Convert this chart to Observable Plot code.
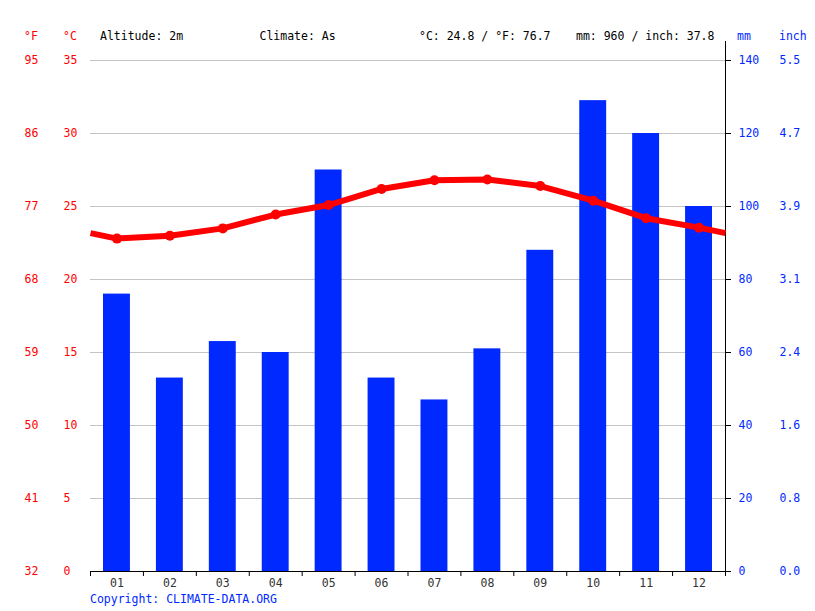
<!DOCTYPE html>
<html><head><meta charset="utf-8">
<script src="https://cdn.jsdelivr.net/npm/d3@7"></script>
<script src="https://cdn.jsdelivr.net/npm/@observablehq/plot@0.6"></script>
<style>
body{margin:0;background:#fff;font-family:"DejaVu Sans Mono",monospace;font-size:11.5px;}
#wrap{position:relative;width:815px;height:611px;overflow:hidden;}
.hd{position:absolute;top:29px;line-height:14px;white-space:pre;color:#000;}
#plots{position:absolute;left:0;top:30px;width:815px;height:560px;}
#plots svg{position:absolute;left:0;top:0;}
#caption{position:absolute;left:90px;top:592px;line-height:14px;color:#0029ff;white-space:pre;}
</style>
</head><body>
<div id="wrap">
  <div id="header"></div>
  <div id="plots"></div>
  <div id="caption"></div>
</div>
<script>
// ---- data ----
const months = ["01","02","03","04","05","06","07","08","09","10","11","12"];
const precipMm = [76, 53, 63, 60, 110, 53, 47, 61, 88, 129, 120, 100];
const tempC = [22.8, 23.0, 23.5, 24.45, 25.1, 26.2, 26.8, 26.85, 26.4, 25.4, 24.2, 23.55];
const mmTicks = [0, 20, 40, 60, 80, 100, 120, 140];
const cTicks = [0, 5, 10, 15, 20, 25, 30, 35];
const headerTexts = ["Altitude: 2m", "Climate: As", "°C: 24.8 / °F: 76.7", "mm: 960 / inch: 37.8"];
const unitLabels = ["°F", "°C", "mm", "inch"];
const captionText = "Copyright: CLIMATE-DATA.ORG";

// ---- layout / style ----
const RED = "#ff0000", BLUE = "#0029ff";
const W = 815, H = 560;
const margins = {marginTop: 11, marginRight: 90, marginBottom: 19, marginLeft: 90};
const mmTop = 140 * 530 / 511;
const font = {fontFamily: "DejaVu Sans Mono", fontSize: "11.5px", background: "transparent", overflow: "visible"};

// header
const header = document.getElementById("header");
const hdPos = [100, 259.5, 419, 576];
headerTexts.forEach((t, i) => {
  const s = document.createElement("span");
  s.className = "hd"; s.style.left = hdPos[i] + "px"; s.textContent = t;
  header.appendChild(s);
});
const unitPos = [24, 63, 737, 779];
const unitCol = [RED, RED, BLUE, BLUE];
unitLabels.forEach((t, i) => {
  const s = document.createElement("span");
  s.className = "hd"; s.style.left = unitPos[i] + "px"; s.style.color = unitCol[i]; s.textContent = t;
  header.appendChild(s);
});
document.getElementById("caption").textContent = captionText;

// precipitation plot (mm)
const rain = months.map((m, i) => ({month: m, mm: precipMm[i]}));
const p1 = Plot.plot({
  width: W, height: H, ...margins, style: font,
  x: {type: "band", domain: months, padding: 0, round: false},
  y: {domain: [0, mmTop]},
  marks: [
    Plot.ruleY(mmTicks.filter(d => d > 0), {stroke: "#c4c4c4", strokeWidth: 1}),
    Plot.barY(rain, {x: "month", y: "mm", fill: BLUE, insetLeft: 13, insetRight: 13}),
    Plot.ruleY([0], {stroke: "#000"}),
    Plot.axisX({tickSize: 0, tickPadding: 7, fill: "#333", label: null}),
    Plot.axisY(mmTicks, {anchor: "right", tickSize: 5, tickPadding: 8, stroke: "#000", fill: BLUE, label: null}),
    Plot.axisY(mmTicks, {anchor: "right", tickSize: 0, tickPadding: 54, fill: BLUE, label: null,
      tickFormat: d => (d / 25.4).toFixed(1)})
  ]
});

// temperature plot (°C)
const tempPts = months.map((m, i) => ({x: i + 1, c: tempC[i]}));
const edgeC = (tempC[0] + tempC[tempC.length - 1]) / 2;
const lineData = [{x: 0.5, c: edgeC}, ...tempPts, {x: months.length + 0.5, c: edgeC}];
const bounds = d3.range(0, months.length + 1).map(i => i + 0.5);
const p2 = Plot.plot({
  width: W, height: H, ...margins, style: font,
  x: {domain: [0.5, months.length + 0.5]},
  y: {domain: [0, mmTop / 4]},
  marks: [
    Plot.ruleX([months.length + 0.5], {stroke: "#000"}),
    Plot.axisX(bounds, {anchor: "bottom", tickSize: 5, stroke: "#000", tickFormat: () => "", label: null}),
    Plot.line(lineData, {x: "x", y: "c", stroke: RED, strokeWidth: 6, strokeLinecap: "butt"}),
    Plot.dot(tempPts, {x: "x", y: "c", fill: RED, r: 5}),
    Plot.axisY(cTicks, {anchor: "left", tickSize: 0, tickPadding: 27, textAnchor: "start", fill: RED, label: null}),
    Plot.axisY(cTicks, {anchor: "left", tickSize: 0, tickPadding: 66, textAnchor: "start", fill: RED, label: null,
      tickFormat: d => Math.round(d * 9 / 5 + 32)})
  ]
});
const plots = document.getElementById("plots");
plots.appendChild(p1);
plots.appendChild(p2);
</script>
</body></html>
